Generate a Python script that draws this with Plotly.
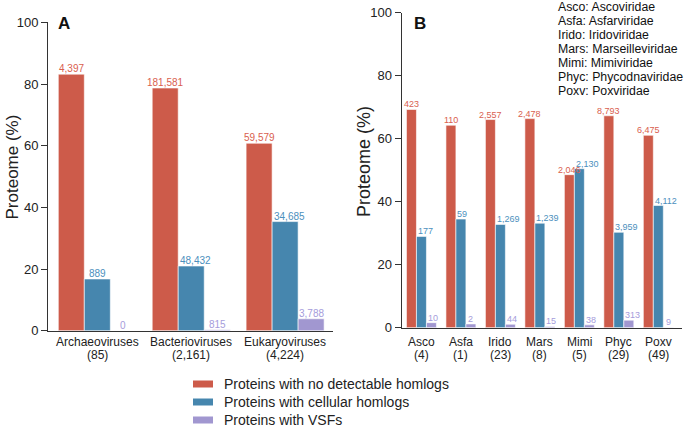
import plotly.graph_objects as go

# ---------------- data ----------------
series_names = ["Proteins with no detectable homlogs",
                "Proteins with cellular homlogs",
                "Proteins with VSFs"]

a_categories = ["Archaeoviruses", "Bacterioviruses", "Eukaryoviruses"]
a_genomes = ["(85)", "(2,161)", "(4,224)"]
a_none_pct = [83.2, 78.7, 60.8]
a_cell_pct = [16.8, 21.0, 35.4]
a_vsf_pct = [0.0, 0.35, 3.9]
a_none_n = [4397, 181581, 59579]
a_cell_n = [889, 48432, 34685]
a_vsf_n = [0, 815, 3788]

b_categories = ["Asco", "Asfa", "Irido", "Mars", "Mimi", "Phyc", "Poxv"]
b_genomes = ["(4)", "(1)", "(23)", "(8)", "(5)", "(29)", "(49)"]
b_none_pct = [69.3, 64.3, 66.1, 66.4, 48.6, 67.3, 61.1]
b_cell_pct = [29.0, 34.5, 32.8, 33.2, 50.5, 30.3, 38.8]
b_vsf_pct = [1.6, 1.2, 1.1, 0.4, 0.9, 2.4, 0.1]
b_none_n = [423, 110, 2557, 2478, 2046, 8793, 6475]
b_cell_n = [177, 59, 1269, 1239, 2130, 3959, 4112]
b_vsf_n = [10, 2, 44, 15, 38, 313, 9]

family_key = ["Asco: Ascoviridae", "Asfa: Asfarviridae", "Irido: Iridoviridae",
              "Mars: Marseilleviridae", "Mimi: Mimiviridae",
              "Phyc: Phycodnaviridae", "Poxv: Poxviridae"]

y_ticks = [0, 20, 40, 60, 80, 100]

# ---------------- style ----------------
bar_colors = ["#CD5B4A", "#4686AE", "#A197D0"]
label_colors = ["#D9604E", "#4C90BD", "#A59CDB"]
FONT = "Arial, Liberation Sans, Helvetica, sans-serif"
W, H = 685, 427

# panel geometry (pixels of the 685x427 page)
A_X = (48.3, 333.0); A_RANGE = (-0.522, 2.51); A_Y = (330.8, 22.3); A_BARW = 0.277
B_X = (401.7, 682.0); B_RANGE = (-0.50, 6.60); B_Y = (327.7, 12.8); B_BARW = 0.253

fig = go.Figure()
ann = []

def add_panel(cats, pcts, counts, xa, ya, size, barw, xpix, xrange):
    px_per_unit = (xpix[1] - xpix[0]) / (xrange[1] - xrange[0])
    bar_px = barw * px_per_unit
    for i in range(3):
        off = (i - 1.5) * barw
        fig.add_trace(go.Bar(
            x=cats, y=pcts[i], name=series_names[i], width=barw, offset=off,
            marker=dict(color=bar_colors[i], line=dict(color="white", width=0.6)),
            xaxis=xa, yaxis=ya, showlegend=False, hoverinfo="skip"))
        for c, v, n in zip(cats, pcts[i], counts[i]):
            txt = f"{n:,}"
            est_w = size * (0.556 * sum(ch.isdigit() for ch in txt) + 0.278 * txt.count(","))
            left_px = off * px_per_unit
            if i > 0 and est_w > bar_px:
                xs, xan = left_px - 0.5, "left"
            else:
                xs, xan = left_px + bar_px / 2, "center"
            ann.append(dict(x=c, xref=xa, y=v, yref=ya, text=txt, showarrow=False,
                            xanchor=xan, yanchor="bottom", xshift=xs, yshift=-2,
                            font=dict(size=size, color=label_colors[i], family=FONT)))

add_panel(a_categories, [a_none_pct, a_cell_pct, a_vsf_pct],
          [a_none_n, a_cell_n, a_vsf_n], "x", "y", 10, A_BARW, A_X, A_RANGE)
add_panel(b_categories, [b_none_pct, b_cell_pct, b_vsf_pct],
          [b_none_n, b_cell_n, b_vsf_n], "x2", "y2", 9, B_BARW, B_X, B_RANGE)

axis_common = dict(showline=True, linecolor="#333", linewidth=1.3,
                   showgrid=False, zeroline=False, automargin=False)
yaxis_common = dict(axis_common, range=[0, 100], tickvals=y_ticks,
                    ticks="outside", ticklen=6, tickwidth=1, tickcolor="#333",
                    tickfont=dict(size=13, color="#222", family=FONT))
xaxis_common = dict(axis_common, type="category", ticks="", showticklabels=False)

fig.update_layout(
    width=W, height=H,
    margin=dict(l=0, r=0, t=0, b=0),
    paper_bgcolor="white", plot_bgcolor="white",
    barmode="overlay",
    font=dict(family=FONT, color="#222"),
    xaxis=dict(xaxis_common, domain=[A_X[0] / W, A_X[1] / W], range=list(A_RANGE),
               anchor="y"),
    yaxis=dict(yaxis_common, domain=[(H - A_Y[0]) / H, (H - A_Y[1]) / H], anchor="x"),
    xaxis2=dict(xaxis_common, domain=[B_X[0] / W, B_X[1] / W], range=list(B_RANGE),
                anchor="y2"),
    yaxis2=dict(yaxis_common, domain=[(H - B_Y[0]) / H, (H - B_Y[1]) / H], anchor="x2"),
    showlegend=False,
)

# category labels (two lines)
for cats, gens, xr in [(a_categories, a_genomes, "x"), (b_categories, b_genomes, "x2")]:
    for c, g in zip(cats, gens):
        ann.append(dict(x=c, xref=xr, y=(H - 342) / H, yref="paper", text=c,
                        showarrow=False, xanchor="center", yanchor="middle",
                        font=dict(size=12, color="#222", family=FONT)))
        ann.append(dict(x=c, xref=xr, y=(H - 354.5) / H, yref="paper", text=g,
                        showarrow=False, xanchor="center", yanchor="middle",
                        font=dict(size=12, color="#222", family=FONT)))

# y-axis titles
ann.append(dict(x=11.5 / W, y=(H - 167) / H, xref="paper", yref="paper",
                text="Proteome (%)", textangle=-90, showarrow=False,
                xanchor="center", yanchor="middle",
                font=dict(size=17, color="#222", family=FONT)))
ann.append(dict(x=364 / W, y=(H - 162) / H, xref="paper", yref="paper",
                text="Proteome (%)", textangle=-90, showarrow=False,
                xanchor="center", yanchor="middle",
                font=dict(size=18, color="#222", family=FONT)))

# panel letters
ann.append(dict(x=64 / W, y=(H - 24) / H, xref="paper", yref="paper", text="<b>A</b>",
                showarrow=False, xanchor="center", yanchor="middle",
                font=dict(size=17, color="#111", family=FONT)))
ann.append(dict(x=420 / W, y=(H - 24) / H, xref="paper", yref="paper", text="<b>B</b>",
                showarrow=False, xanchor="center", yanchor="middle",
                font=dict(size=17, color="#111", family=FONT)))

# family key
for i, line in enumerate(family_key):
    ann.append(dict(x=556 / W, y=(H - 6.7 - 14 * i) / H, xref="paper", yref="paper",
                    text=line, showarrow=False, xanchor="left", yanchor="middle",
                    font=dict(size=12.3, color="#111", family=FONT)))

# manual legend
shapes = []
for i, name in enumerate(series_names):
    yc = 384 + 18 * i
    shapes.append(dict(type="rect", xref="paper", yref="paper",
                       x0=193 / W, x1=213 / W, y0=(H - yc - 3.5) / H, y1=(H - yc + 3.5) / H,
                       fillcolor=bar_colors[i], line=dict(width=0)))
    ann.append(dict(x=222 / W, y=(H - yc) / H, xref="paper", yref="paper", text=name,
                    showarrow=False, xanchor="left", yanchor="middle",
                    font=dict(size=14, color="#222", family=FONT)))

fig.update_layout(annotations=ann, shapes=shapes)
fig.write_html("out.html", config={"displayModeBar": False},
               post_script="document.body.style.margin='0';document.body.style.overflow='hidden';")
